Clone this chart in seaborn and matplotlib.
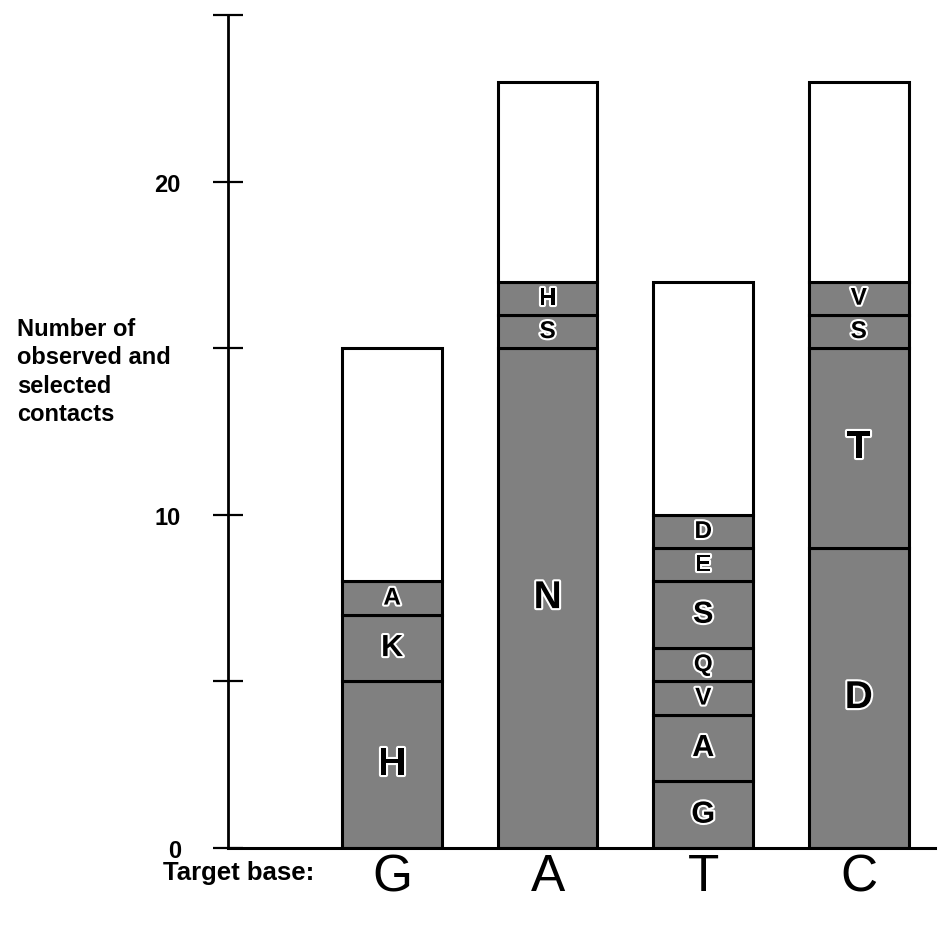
import matplotlib
matplotlib.use("Agg")
import matplotlib.pyplot as plt
import matplotlib.patheffects as pe
import numpy as np
import pandas as pd
import seaborn as sns

# Target bases and the total number of observed contacts per base
bases = ["G", "A", "T", "C"]
totals = [15, 23, 17, 23]

# Selected contacts per base, listed bottom to top: contacting residue and count
g_res = ["H", "K", "A"]
g_cnt = [5, 2, 1]
a_res = ["N", "S", "H"]
a_cnt = [15, 1, 1]
t_res = ["G", "A", "V", "Q", "S", "E", "D"]
t_cnt = [2, 2, 1, 1, 2, 1, 1]
c_res = ["D", "T", "S", "V"]
c_cnt = [9, 6, 1, 1]

y_major = [0, 10, 20]
y_minor = [5, 15, 25]

residues = [g_res, a_res, t_res, c_res]
counts = [g_cnt, a_cnt, t_cnt, c_cnt]

# Long table of stacked segments; the remaining observed contacts form an open top segment
rows = []
for base, total, res, cnt in zip(bases, totals, residues, counts):
    bottom = 0
    for layer, (r, n) in enumerate(zip(res, cnt)):
        rows.append(dict(base=base, label=r, count=n, bottom=bottom, layer=layer, kind="selected"))
        bottom += n
    rows.append(dict(base=base, label="", count=total - bottom, bottom=bottom,
                     layer=len(res), kind="observed"))
segments = pd.DataFrame(rows)

sns.set_theme(style="white")
plt.rcParams["font.family"] = ["Liberation Sans", "DejaVu Sans"]
plt.rcParams["text.color"] = "black"
plt.rcParams["xtick.color"] = "black"
plt.rcParams["ytick.color"] = "black"
plt.rcParams["xtick.labelcolor"] = "black"
plt.rcParams["ytick.labelcolor"] = "black"

fig = plt.figure(figsize=(9.45, 9.29), dpi=100)
ax = fig.add_axes([228 / 945, 1 - 849 / 929, (935 - 228) / 945, (849 - 16) / 929])

stipple = "#808080"
bar_w = 0.64
for layer in sorted(segments["layer"].unique()):
    for kind, fill in (("selected", stipple), ("observed", "white")):
        sub = segments[(segments["layer"] == layer) & (segments["kind"] == kind)]
        if sub.empty:
            continue
        sns.barplot(data=sub, x="base", y="count", order=bases, color=fill,
                    saturation=1, width=bar_w, errorbar=None,
                    bottom=sub["bottom"].to_numpy(), edgecolor="black",
                    linewidth=2.2, ax=ax)

# Residue letters inside each selected segment
pos = {b: i for i, b in enumerate(bases)}
for _, s in segments[segments["kind"] == "selected"].iterrows():
    fs = min(28, 13 + 4.5 * s["count"])
    ax.text(pos[s["base"]], s["bottom"] + s["count"] / 2, s["label"],
            ha="center", va="center", fontsize=fs, fontweight="bold", color="black",
            path_effects=[pe.withStroke(linewidth=3, foreground="white")])

ax.set_xlim(-1.055, 3.49)
ax.set_ylim(0, 25)

for side in ("top", "right"):
    ax.spines[side].set_visible(False)
ax.spines["left"].set_linewidth(2)
ax.spines["bottom"].set_linewidth(2.2)
ax.spines["left"].set_color("black")
ax.spines["bottom"].set_color("black")

ax.set_yticks(y_major)
ax.set_yticks(y_minor, minor=True)
ax.set_yticklabels([str(v) for v in y_major], fontsize=17, fontweight="bold", color="black")
ax.tick_params(axis="y", which="both", direction="inout", length=22, width=1.6,
               color="black", left=True, pad=23)
ax.tick_params(axis="x", length=0, pad=3, labelsize=37, labelcolor="black")
ax.set_xlabel("")
ax.set_ylabel("")

fig.text(17 / 945, 1 - 318 / 929, "Number of\nobserved and\nselected\ncontacts",
         ha="left", va="top", fontsize=17, fontweight="bold", linespacing=1.3,
         color="black")
fig.text(163 / 945, 1 - 873 / 929, "Target base:", ha="left", va="center",
         fontsize=18.5, fontweight="bold", color="black")

fig.savefig("out.png", dpi=100, facecolor="white")
